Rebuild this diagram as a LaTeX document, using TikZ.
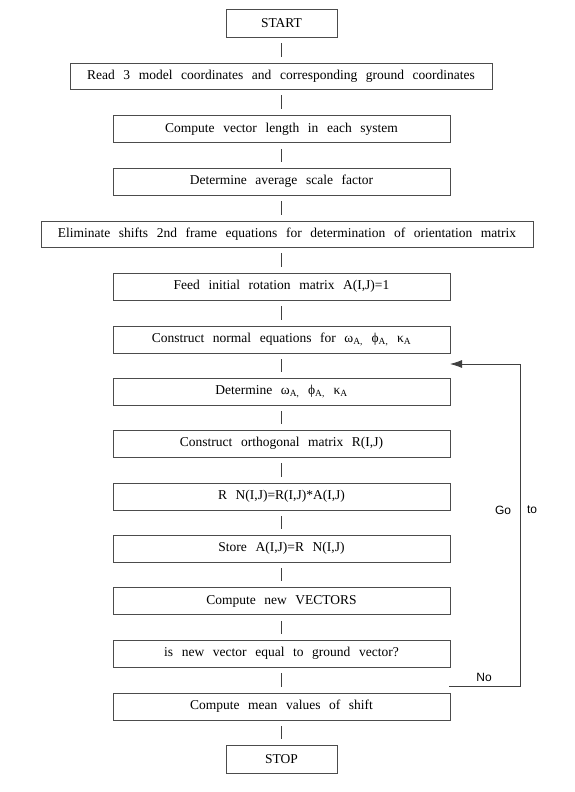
\documentclass[tikz,border=0pt]{standalone}
\usepackage{fontspec}
\setmainfont{Liberation Serif}
\newfontfamily\lblfont{Liberation Sans}
\usetikzlibrary{arrows.meta}
\begin{document}
\begin{tikzpicture}[x=1pt,y=1pt,
  box/.style={draw=black!70, line width=0.9pt, minimum height=27pt, minimum width=337pt, inner sep=0pt,
    font={\fontsize{13.5}{15}\selectfont\spaceskip=8.6pt plus 1pt\relax}},
  link/.style={draw=black!75, line width=0.8pt, shorten >=6pt, shorten <=6pt},
  back/.style={draw=black!75, line width=0.8pt},
  lbl/.style={font={\lblfont\fontsize{12}{14}\selectfont}, inner sep=0pt}]
\useasboundingbox (0,0) rectangle (575,792);
\node[box, minimum width=111pt, minimum height=28pt] (start) at (281.5,769) {START};
\node[box, minimum width=422pt, minimum height=26pt] (read) at (281,716) {Read 3 model coordinates and corresponding ground coordinates};
\node[box] (len) at (281.5,663) {Compute vector length in each system};
\node[box] (avg) at (281.5,610.5) {Determine average scale factor};
\node[box, minimum width=492pt, minimum height=26pt] (elim) at (287,558) {Eliminate shifts 2nd frame equations for determination of orientation matrix};
\node[box] (feed) at (281.5,505.5) {Feed initial rotation matrix A(I,J)=1};
\node[box] (normal) at (281.5,452.5) {Construct normal equations for ω\textsubscript{A,} ϕ\textsubscript{A,} κ\textsubscript{A}};
\node[box] (det) at (281.5,400.5) {Determine ω\textsubscript{A,} ϕ\textsubscript{A,} κ\textsubscript{A}};
\node[box] (ortho) at (281.5,348.5) {Construct orthogonal matrix R(I,J)};
\node[box] (rn) at (281.5,295.5) {R N(I,J)=R(I,J)*A(I,J)};
\node[box] (store) at (281.5,243.5) {Store A(I,J)=R N(I,J)};
\node[box] (vec) at (281.5,191) {Compute new VECTORS};
\node[box] (isnew) at (281.5,138.5) {is new vector equal to ground vector?};
\node[box] (mean) at (281.5,85.5) {Compute mean values of shift};
\node[box, minimum width=111pt, minimum height=28pt] (stop) at (281.5,33) {STOP};
\foreach \a/\b in {start/read, read/len, len/avg, avg/elim, elim/feed, feed/normal, normal/det, det/ortho, ortho/rn, rn/store, store/vec, vec/isnew, isnew/mean, mean/stop}
  \draw[link] (\a.south -| start) -- (\b.north -| start);
\coordinate (n1) at (449,106);
\coordinate (n2) at (520,106);
\coordinate (n3) at (520,428);
\coordinate (n4) at (450,428);
\draw[back, -{Latex[length=12pt,width=8pt]}] (n1) -- (n2) -- (n3) -- (n4);
\node[lbl] (no) at (484,115) {No};
\node[lbl] (go) at (503,282) {Go};
\node[lbl] (to) at (532,282) {to};
\end{tikzpicture}
\end{document}
